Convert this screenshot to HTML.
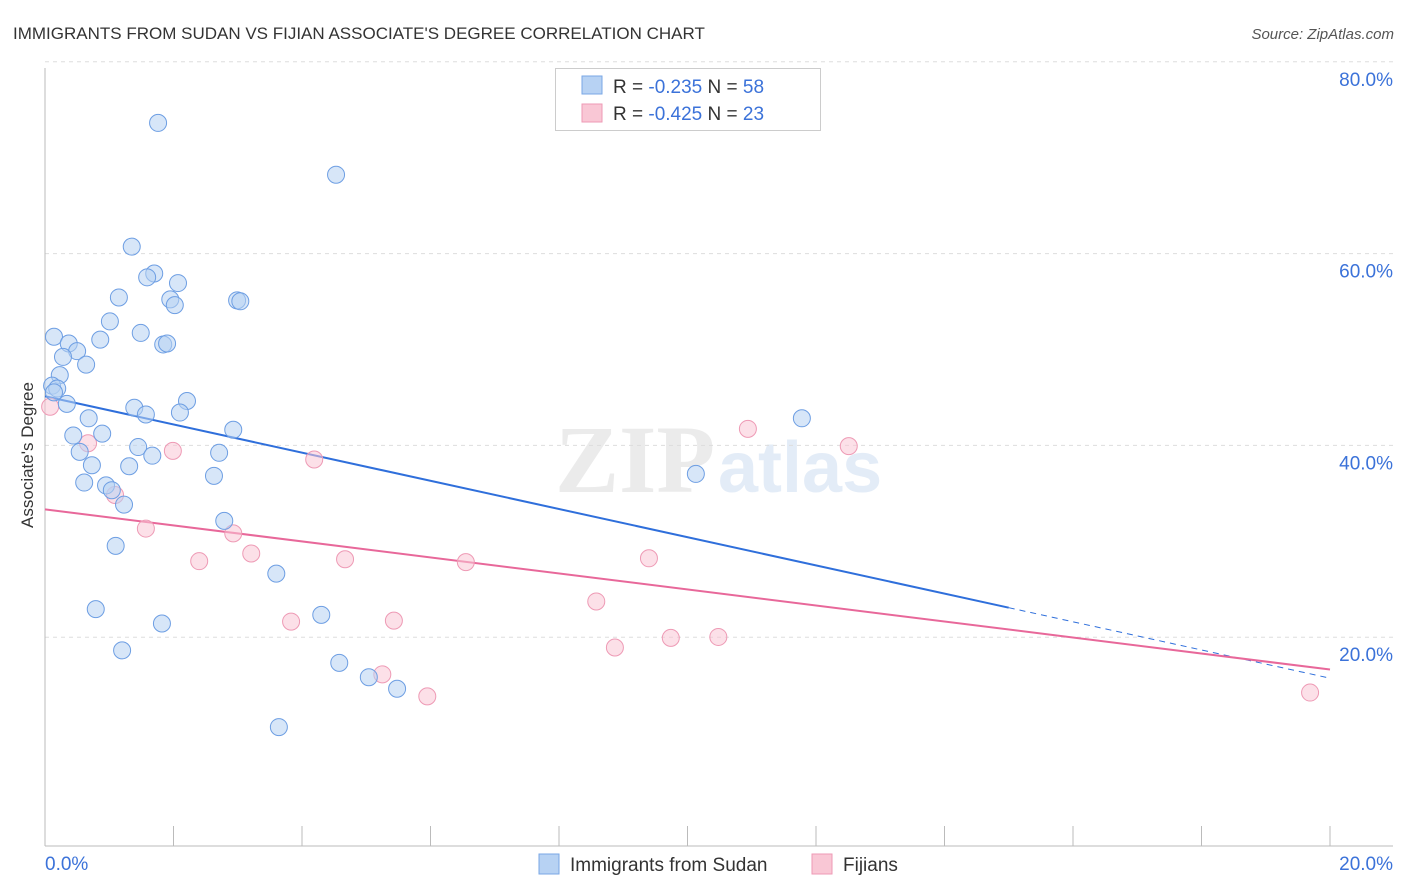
<!DOCTYPE html>
<html><head><meta charset="utf-8"><style>
body{margin:0;background:#fff;font-family:"Liberation Sans",sans-serif}
</style></head><body>
<svg width="1406" height="892" viewBox="0 0 1406 892" xmlns="http://www.w3.org/2000/svg" style="display:block">
<text x="13" y="39" font-size="17" fill="#333">IMMIGRANTS FROM SUDAN VS FIJIAN ASSOCIATE'S DEGREE CORRELATION CHART</text>
<text x="1394" y="39" font-size="15" fill="#555" text-anchor="end" font-style="italic">Source: ZipAtlas.com</text>
<g opacity="0.5">
<text x="555" y="492" font-size="96" font-family="Liberation Serif,serif" fill="#d8d8d8" font-weight="bold">ZIP</text>
<text x="718" y="492" font-size="72" fill="#c9daf0" font-weight="bold">atlas</text>
</g>
<g id="grid"></g>
<g id="axes"></g>
<g id="lines"></g>
<g id="pts"></g>
<text transform="translate(33,455) rotate(-90)" font-size="17" fill="#333" text-anchor="middle">Associate's Degree</text>
<g>
<rect x="555.5" y="68.5" width="265" height="62" fill="#fff" stroke="#ccc"/>
<rect x="582" y="76" width="20" height="18" fill="#b7d2f3" stroke="#7aa7e6"/>
<rect x="582" y="104" width="20" height="18" fill="#f9c7d5" stroke="#ee9ab5"/>
<text x="613" y="93" font-size="19" fill="#333">R = <tspan fill="#3b72d9">-0.235</tspan>   N = <tspan fill="#3b72d9">58</tspan></text>
<text x="613" y="120" font-size="19" fill="#333">R = <tspan fill="#3b72d9">-0.425</tspan>   N = <tspan fill="#3b72d9">23</tspan></text>
</g>
<g>
<rect x="539" y="854" width="20" height="20" fill="#b7d2f3" stroke="#7aa7e6"/>
<text x="570" y="871" font-size="19" fill="#333">Immigrants from Sudan</text>
<rect x="812" y="854" width="20" height="20" fill="#f9c7d5" stroke="#ee9ab5"/>
<text x="843" y="871" font-size="19" fill="#333">Fijians</text>
</g>
</svg>
<script>
const yTicks=[20,40,60,80];
const xTickLabels=["0.0%","20.0%"];
const blueX=[1.76,4.53,1.35,1.70,1.59,2.07,2.99,3.04,1.15,1.95,2.02,1.01,1.49,0.14,0.86,0.37,1.84,1.90,0.50,0.28,0.64,0.23,0.11,0.19,0.14,0.34,2.21,1.39,2.10,1.57,0.68,2.93,0.89,0.44,1.45,0.54,2.71,1.67,0.73,1.31,2.63,0.61,0.95,1.04,1.23,2.79,1.10,3.60,0.79,4.30,1.82,1.20,4.58,5.48,5.04,3.64,11.78,10.13];
const blueY=[75.4,70.0,62.5,59.7,59.3,58.7,56.9,56.8,57.2,57.0,56.4,54.7,53.5,53.1,52.8,52.4,52.3,52.4,51.6,51.0,50.2,49.1,48.0,47.7,47.3,46.1,46.4,45.7,45.2,45.0,44.6,43.4,43.0,42.8,41.6,41.1,41.0,40.7,39.7,39.6,38.6,37.9,37.6,37.1,35.6,33.9,31.3,28.4,24.7,24.1,23.2,20.4,19.1,16.4,17.6,12.4,44.6,38.8];
const pinkX=[0.08,0.67,1.99,1.09,1.57,2.93,3.21,2.40,4.19,4.67,3.83,5.43,5.25,5.95,6.55,8.58,8.87,9.40,9.74,10.48,10.94,12.51,19.69];
const pinkY=[45.8,42.0,41.2,36.6,33.1,32.6,30.5,29.7,40.3,29.9,23.4,23.5,17.9,15.6,29.6,25.5,20.7,30.0,21.7,21.8,43.5,41.7,16.0];
const blueFit=[46.9,17.5], pinkFit=[35.1,18.4];
const NS="http://www.w3.org/2000/svg";
const X=v=>45+v*64.25, Y=v=>846-v*9.59;
function mk(t,a,p){const e=document.createElementNS(NS,t);for(const k in a)e.setAttribute(k,a[k]);p.appendChild(e);return e;}
const grid=document.getElementById('grid'),axes=document.getElementById('axes');
yTicks.forEach(t=>{
 const l=mk('line',{x1:45,x2:1393,y1:Y(t)-17,y2:Y(t)-17,stroke:'#ddd','stroke-dasharray':'4,4'},grid);
 
 
 const tx=mk('text',{x:1393,y:Y(t)-17+24,'font-size':19,fill:'#3b72d9','text-anchor':'end'},axes);
 tx.textContent=t.toFixed(1)+'%';
 
 
});
mk('line',{x1:45,x2:45,y1:68,y2:846,stroke:'#bbb'},axes);
mk('line',{x1:45,x2:1393,y1:846,y2:846,stroke:'#bbb'},axes);
for(let i=1;i<=10;i++){const t=mk('line',{x1:X(i*2),x2:X(i*2),y1:826,y2:846,stroke:'#bbb'},axes);
 
 }
[[0,'start',45],[1,'end',1393]].forEach(([i,a,x])=>{const t=mk('text',{x:x,y:870,'font-size':19,fill:'#3b72d9','text-anchor':a},axes);t.textContent=xTickLabels[i];
 
 });
const pts=document.getElementById('pts');
function dots(xs,ys,f,s,n){xs.forEach((x,i)=>{const c=mk('circle',{cx:X(x),cy:Y(ys[i]),r:8.5,fill:f,'fill-opacity':0.55,stroke:s,'stroke-width':1},pts);
 
 });}
dots(pinkX,pinkY,'#f9c7d5','#ee9ab5','fijians-point');
dots(blueX,blueY,'#b7d2f3','#6d9ee3','sudan-point');
const lines=document.getElementById('lines');
const bAt=x=>blueFit[0]+(blueFit[1]-blueFit[0])*x/20;
let l1=mk('line',{x1:X(0),y1:Y(bAt(0)),x2:X(15),y2:Y(bAt(15)),stroke:'#2f6fdb','stroke-width':2},lines);


let l2=mk('line',{x1:X(15),y1:Y(bAt(15)),x2:X(20),y2:Y(bAt(20)),stroke:'#2f6fdb','stroke-width':1,'stroke-dasharray':'6,5'},lines);


let l3=mk('line',{x1:X(0),y1:Y(pinkFit[0]),x2:X(20),y2:Y(pinkFit[1]),stroke:'#e8689a','stroke-width':2},lines);


</script>
</body></html>
